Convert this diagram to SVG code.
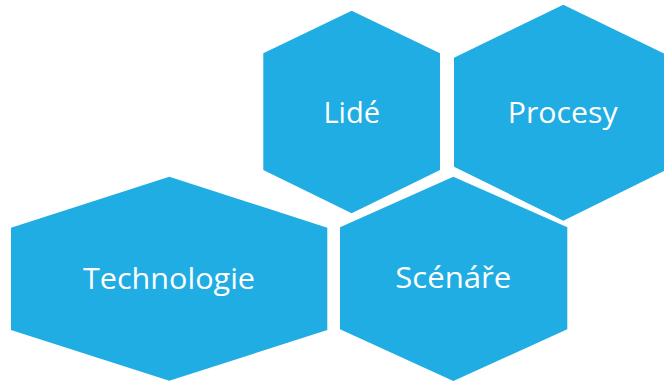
<svg xmlns="http://www.w3.org/2000/svg" width="664" height="381" viewBox="0 0 664 381">
<style>
.hex{fill:#1FADE3;}
.lbl{fill:#FFFFFF;font-family:"Open Sans","Liberation Sans",sans-serif;font-size:29px;text-anchor:middle;}
</style>
<rect width="664" height="381" fill="#FFFFFF"/>
<g id="node-lide">
<polygon class="hex" points="351.7,10.7 440,53.3 440,170 351.7,213.3 263.3,170 263.3,53.3"/>
<text class="lbl" x="351.7" y="122.5">Lidé</text>
</g>
<g id="node-procesy">
<polygon class="hex" points="563.3,4.7 672.6,57.7 672.6,166.7 563.3,220.7 454,166.7 454,57.7"/>
<text class="lbl" x="562.7" y="122.5" textLength="110" lengthAdjust="spacingAndGlyphs">Procesy</text>
</g>
<g id="node-technologie">
<polygon class="hex" points="169.3,176.7 327.3,227.7 327.3,330 169.3,380.7 11,330 11,227.7"/>
<text class="lbl" x="169" y="289.3" textLength="172" lengthAdjust="spacingAndGlyphs">Technologie</text>
</g>
<g id="node-scenare">
<polygon class="hex" points="453.3,176.7 567.3,227.3 567.3,329.3 453.3,381 340,329.3 340,227.3"/>
<text class="lbl" x="453.3" y="288.3" textLength="116" lengthAdjust="spacingAndGlyphs">Scénáře</text>
</g>
<g id="connectors"></g>
</svg>
